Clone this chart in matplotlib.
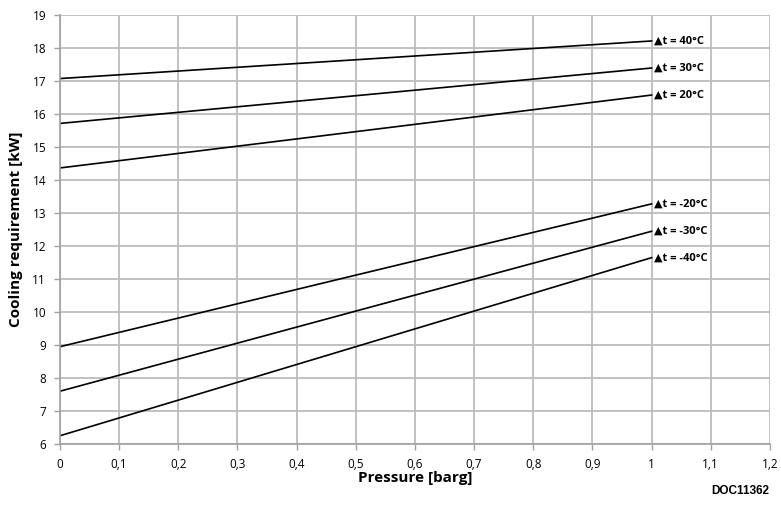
import numpy as np
import matplotlib.pyplot as plt

pressure = [0.0, 0.5, 1.0]
labels = ['▲t = 40°C', '▲t = 30°C', '▲t = 20°C', '▲t = -20°C', '▲t = -30°C', '▲t = -40°C']
cooling = [
    [17.08, 17.65, 18.22],
    [15.72, 16.56, 17.40],
    [14.37, 15.47, 16.58],
    [8.95, 11.12, 13.28],
    [7.60, 10.03, 12.45],
    [6.25, 8.95, 11.65],
]
xticks = np.round(np.arange(0, 1.21, 0.1), 1)
yticks = np.arange(6, 20, 1)

plt.rcParams['font.family'] = ['Open Sans', 'DejaVu Sans']

fig = plt.figure(figsize=(7.81, 5.08), dpi=100)
ax = fig.add_axes([0.0768, 0.126, 0.909, 0.844])

for vals, lab in zip(cooling, labels):
    ax.plot(pressure, vals, color='black', lw=1.2)
    ax.text(pressure[-1] + 0.004, vals[-1], lab, fontsize=8, fontweight='bold',
            va='center', ha='left')

ax.set_xlim(0, 1.2)
ax.set_ylim(6, 19)
ax.set_xticks(xticks)
ax.set_xticklabels([('%g' % v).replace('.', ',') for v in xticks])
ax.set_yticks(yticks)
ax.tick_params(labelsize=8.5, color='#a0a0a0', length=4, width=1, pad=6)
ax.grid(True, color='#bcbcbc', lw=1.3)
ax.set_axisbelow(True)
for s in ['top', 'right']:
    ax.spines[s].set_visible(False)
for s in ['left', 'bottom']:
    ax.spines[s].set_color('#a0a0a0')
    ax.spines[s].set_linewidth(1.2)

ax.set_xlabel('Pressure [barg]', fontsize=11, fontweight='bold', labelpad=0)
ax.set_ylabel('Cooling requirement [kW]', fontsize=11, fontweight='bold', labelpad=7)
fig.text(0.985, 0.022, 'DOC11362', fontsize=8.5, fontweight='bold',
         family='Liberation Sans', ha='right', va='bottom')

fig.savefig('out.png', dpi=100)
